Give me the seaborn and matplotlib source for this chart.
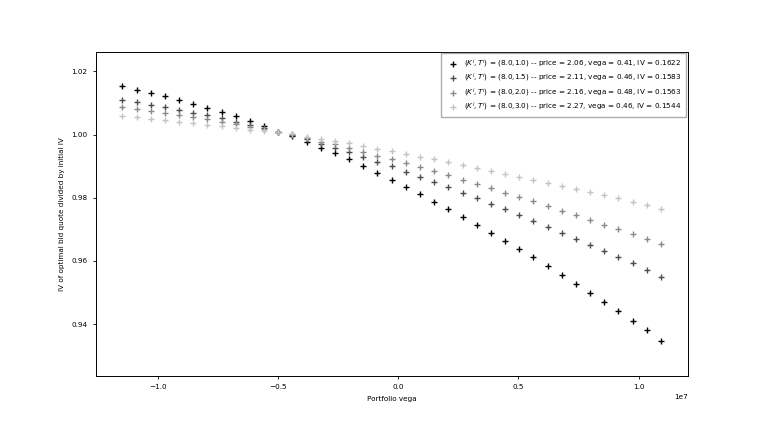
import numpy as np
import pandas as pd
import matplotlib
matplotlib.use('Agg')
import matplotlib.pyplot as plt
import seaborn as sns

# portfolio vega grid (in units of 1e7)
vega = [-1.149, -1.090, -1.031, -0.972, -0.913, -0.854, -0.795, -0.736, -0.677, -0.618,
        -0.559, -0.500, -0.441, -0.382, -0.323, -0.264, -0.205, -0.146, -0.087, -0.028,
        0.031, 0.090, 0.149, 0.208, 0.267, 0.326, 0.385, 0.444, 0.503, 0.562,
        0.621, 0.680, 0.739, 0.798, 0.857, 0.916, 0.975, 1.034, 1.093]

iv_T10 = [1.0154, 1.0142, 1.0131, 1.0121, 1.0109, 1.0097, 1.0085, 1.0072, 1.0058, 1.0043,
          1.0028, 1.0009, 0.9996, 0.9978, 0.9959, 0.9942, 0.9922, 0.9901, 0.9880, 0.9857,
          0.9835, 0.9812, 0.9788, 0.9764, 0.9739, 0.9714, 0.9688, 0.9663, 0.9638, 0.9611,
          0.9584, 0.9556, 0.9528, 0.9499, 0.9471, 0.9441, 0.9410, 0.9380, 0.9347]
iv_T15 = [1.0109, 1.0102, 1.0094, 1.0087, 1.0078, 1.0070, 1.0062, 1.0052, 1.0041, 1.0032,
          1.0021, 1.0009, 0.9999, 0.9987, 0.9971, 0.9959, 0.9946, 0.9929, 0.9914, 0.9900,
          0.9883, 0.9867, 0.9850, 0.9833, 0.9816, 0.9798, 0.9781, 0.9764, 0.9745, 0.9727,
          0.9708, 0.9689, 0.9670, 0.9651, 0.9632, 0.9612, 0.9592, 0.9571, 0.9550]
iv_T20 = [1.0086, 1.0081, 1.0074, 1.0068, 1.0062, 1.0055, 1.0049, 1.0041, 1.0033, 1.0025,
          1.0017, 1.0009, 1.0001, 0.9990, 0.9978, 0.9970, 0.9959, 0.9946, 0.9933, 0.9922,
          0.9909, 0.9897, 0.9884, 0.9871, 0.9857, 0.9844, 0.9830, 0.9816, 0.9803, 0.9789,
          0.9774, 0.9759, 0.9745, 0.9730, 0.9715, 0.9700, 0.9684, 0.9668, 0.9653]
iv_T30 = [1.0058, 1.0055, 1.0051, 1.0046, 1.0041, 1.0037, 1.0032, 1.0027, 1.0021, 1.0016,
          1.0013, 1.0009, 1.0003, 0.9993, 0.9985, 0.9980, 0.9973, 0.9964, 0.9955, 0.9947,
          0.9939, 0.9930, 0.9922, 0.9913, 0.9904, 0.9894, 0.9885, 0.9875, 0.9867, 0.9857,
          0.9848, 0.9838, 0.9829, 0.9818, 0.9809, 0.9798, 0.9788, 0.9777, 0.9765]

labels = [r'$(K^i,T^i)$ = (8.0,1.0) -- price = 2.06, vega = 0.41, IV = 0.1622',
          r'$(K^i,T^i)$ = (8.0,1.5) -- price = 2.11, vega = 0.46, IV = 0.1583',
          r'$(K^i,T^i)$ = (8.0,2.0) -- price = 2.16, vega = 0.48, IV = 0.1563',
          r'$(K^i,T^i)$ = (8.0,3.0) -- price = 2.27, vega = 0.46, IV = 0.1544']
colors = ['#000000', '#4d4d4d', '#8a8a8a', '#c4c4c4']

series = [iv_T10, iv_T15, iv_T20, iv_T30]
x = np.array(vega) * 1e7

fig = plt.figure(figsize=(7.64, 4.30), dpi=100)
ax = fig.add_axes([0.125, 0.126, 0.775, 0.754])
for ys, lab, c in zip(series, labels, colors):
    df = pd.DataFrame({'vega': x, 'iv': ys})
    sns.scatterplot(data=df, x='vega', y='iv', marker='+', color=c, s=18,
                    linewidth=1.0, label=lab, ax=ax)

ax.set_ylim(0.9236, 1.0263)
ax.set_xlim(-1.261e7, 1.204e7)
fs = 5.2
ax.set_xlabel('Portfolio vega', fontsize=fs)
ax.set_ylabel('IV of optimal bid quote divided by initial IV', fontsize=fs)
ax.tick_params(labelsize=fs, width=0.6, length=2.5)
ax.xaxis.get_offset_text().set_fontsize(fs)
for sp in ax.spines.values():
    sp.set_linewidth(0.7)
ax.legend(loc='upper right', fontsize=fs, frameon=True, fancybox=False,
          edgecolor='#999999', handletextpad=0.6, borderpad=0.6, labelspacing=0.3,
          borderaxespad=0.2)

fig.savefig('out.png', dpi=100)
